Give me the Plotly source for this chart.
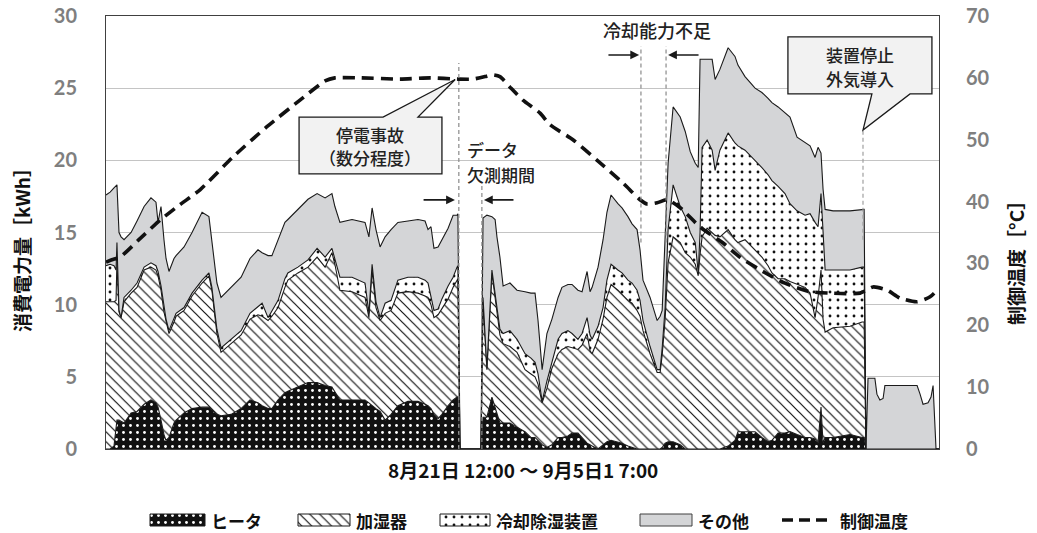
import plotly.graph_objects as go

# Elapsed time [h] from 8/21 12:00 (end of record: 9/5 17:00)
hours = [
    0, 1.8, 3.5, 4.4, 4.8, 5.7, 6.6, 7.9, 11.0, 13.6,
    16.7, 19.7, 21.9, 22.8, 24.1, 25.4, 26.3, 27.6, 29.8, 30.7,
    34.2, 37.7, 42.1, 45.1, 46.4, 48.6, 50.4, 54.8, 59.2, 63.1,
    66.6, 68.4, 71.0, 72.7, 75.4, 78.4, 79.7, 84.1, 88.5, 92.5,
    96.0, 99.0, 100.3, 102.5, 107.8, 113.5, 115.2, 116.6, 118.3, 120.1,
    122.3, 124.9, 127.9, 132.3, 136.7, 139.8, 141.1, 142.4, 143.7, 145.5,
    147.2, 149.9, 152.1, 153.8, 154.2, 155.1, 164.3, 165.2, 166.9, 169.1,
    170.5, 171.3, 172.6, 174.0, 177.0, 180.1, 183.6, 186.2, 188.0, 189.3,
    191.1, 193.2, 195.4, 198.1, 199.8, 202.4, 204.2, 206.8, 208.6, 210.8,
    212.1, 213.0, 215.6, 217.8, 219.5, 221.3, 224.3, 226.1, 228.7, 230.5,
    232.7, 234.0, 235.3, 238.4, 241.5, 242.8, 243.7, 245.0, 246.3, 248.5,
    251.6, 253.8, 256.0, 258.2, 259.5, 260.3, 261.2, 263.4, 265.6, 266.9,
    269.0, 272.6, 275.6, 276.9, 280.0, 284.4, 287.4, 290.1, 291.8, 294.5,
    297.5, 299.7, 302.8, 306.3, 308.5, 310.7, 312.0, 313.3, 314.2, 315.1,
    318.6, 326.0, 331.3, 332.2, 333.0, 333.9, 336.9, 337.8, 339.1, 340.5,
    341.3, 347.9, 355.4, 356.7, 358.0, 360.2, 361.5, 362.4, 363.3, 363.7,
    365.0,
]

# Energy consumption per hour [kWh]
heater = [
    0, 0, 0.2, 1.8, 2.0, 2.0, 1.9, 1.8, 2.5, 2.6,
    3.1, 3.4, 3.2, 2.9, 2.0, 1.0, 0.6, 0.8, 1.8, 2.0,
    2.5, 2.8, 2.9, 2.9, 2.7, 2.4, 2.3, 2.4, 2.8, 3.4,
    3.2, 3.0, 2.8, 2.8, 3.4, 3.9, 4.0, 4.3, 4.6, 4.6,
    4.4, 4.3, 4.0, 3.4, 3.4, 3.4, 3.2, 3.0, 2.8, 2.6,
    2.0, 2.4, 3.0, 3.3, 3.3, 3.1, 3.0, 2.8, 2.4, 2.1,
    2.4, 3.0, 3.4, 3.6, 3.6, 0, 0, 2.2, 2.2, 3.6,
    2.9, 2.4, 1.8, 1.8, 1.8, 1.5, 1.2, 0.8, 0.8, 0.6,
    0.3, 0.1, 0.3, 0.8, 0.8, 0.9, 1.1, 1.1, 0.8, 0.4,
    0.3, 0.2, 0.0, 0.3, 0.5, 0.6, 0.5, 0.4, 0.2, 0.1,
    0.0, 0.0, 0.0, 0.0, 0.0, 0.0, 0.1, 0.4, 0.5, 0.5,
    0.3, 0.0, 0.0, 0.0, 0.0, 0.0, 0.0, 0.0, 0.0, 0.0,
    0.0, 0.2, 0.6, 1.2, 1.2, 1.2, 0.8, 0.5, 0.6, 1.1,
    1.1, 1.2, 1.0, 0.8, 0.8, 0.7, 0.4, 2.9, 0.4, 0.8,
    0.8, 1.0, 0.8, 0.8, 0, 0, 0, 0, 0, 0,
    0, 0, 0, 0, 0, 0, 0, 0, 0, 0,
    0,
]
humidifier = [
    10.2, 10.2, 10.0, 8.5, 11.0, 7.5, 7.2, 8.4, 8.3, 8.6,
    9.3, 9.2, 9.2, 9.1, 9.0, 8.5, 8.2, 7.2, 7.0, 7.2,
    7.1, 7.8, 8.6, 9.1, 8.3, 5.6, 4.4, 4.9, 5.1, 5.6,
    6.1, 6.2, 6.1, 6.4, 6.4, 7.3, 7.7, 7.9, 8.0, 8.7,
    8.2, 9.3, 8.8, 7.6, 7.5, 7.1, 5.9, 9.4, 7.0, 6.3,
    7.4, 7.2, 7.8, 7.6, 7.5, 7.5, 7.5, 7.2, 6.7, 7.2,
    7.3, 7.4, 7.8, 8.1, 8.2, 0, 0, 8.1, 3.3, 8.6,
    7.6, 7.1, 6.1, 5.5, 5.3, 5.2, 4.3, 4.4, 4.2, 3.9,
    2.9, 4.1, 5.3, 5.8, 6.1, 6.2, 5.9, 5.8, 6.4, 7.6,
    6.5, 6.4, 7.6, 8.7, 10.0, 10.8, 10.5, 10.3, 10.1, 10.0,
    9.6, 9.2, 8.2, 6.6, 5.3, 5.3, 6.4, 8.6, 12.4, 14.2,
    14.0, 13.6, 13.3, 12.8, 12.0, 13.5, 14.7, 15.3, 15.0, 14.8,
    14.7, 15.0, 13.9, 13.1, 13.3, 12.6, 12.5, 12.2, 11.6, 10.7,
    10.7, 10.4, 10.4, 10.4, 10.0, 8.4, 10.1, 9.5, 8.6, 7.3,
    7.6, 7.5, 8.0, 8.0, 0, 0, 0, 0, 0, 0,
    0, 0, 0, 0, 0, 0, 0, 0, 0, 0,
    0,
]
dehumidifier = [
    2.5, 2.6, 2.5, 2.1, 1.3, 0.1, 0.0, 0.3, 0.2, 0.3,
    0.2, 0.3, 0.3, 0.3, 0.3, 0.2, 0.2, 0.2, 0.2, 0.2,
    0.2, 0.2, 0.2, 0.2, 0.2, 0.3, 0.3, 0.3, 0.3, 0.4,
    0.6, 0.9, 0.2, 0.4, 0.5, 0.6, 0.5, 0.4, 0.5, 0.6,
    0.7, 0.3, 0.4, 0.9, 1.0, 1.0, 0.3, 0.4, 0.4, 0.2,
    0.7, 0.7, 0.9, 1.0, 1.1, 1.1, 1.0, 0.6, 0.5, 0.4,
    0.7, 0.9, 0.7, 0.9, 0.9, 0, 0, 0.2, 0.1, 0.2,
    0.3, 0.3, 0.4, 0.7, 1.1, 0.9, 1.1, 1.1, 1.0, 0.7,
    0.1, 0.5, 0.4, 1.0, 1.1, 1.1, 1.0, 0.7, 0.8, 1.1,
    1.1, 1.0, 0.9, 0.8, 1.2, 1.4, 1.4, 1.5, 1.4, 1.4,
    1.4, 1.1, 0.7, 0.5, 0.2, 0.2, 0.5, 0.8, 2.3, 3.6,
    2.5, 2.5, 1.7, 1.5, 0.2, 1.5, 6.2, 6.1, 5.7, 4.5,
    6.0, 6.7, 6.7, 6.7, 6.2, 6.2, 6.2, 6.3, 6.4, 6.4,
    5.9, 5.4, 5.1, 5.0, 5.5, 6.6, 4.9, 5.3, 6.0, 4.3,
    4.0, 3.9, 3.8, 3.8, 0, 0, 0, 0, 0, 0,
    0, 0, 0, 0, 0, 0, 0, 0, 0, 0,
    0,
]
other = [
    4.9, 5.0, 5.4, 5.9, 4.0, 5.4, 5.6, 4.0, 4.0, 4.3,
    4.2, 4.5, 4.4, 3.4, 5.5, 4.8, 4.2, 4.1, 4.2, 4.0,
    4.2, 4.2, 4.7, 3.9, 3.1, 3.2, 3.5, 3.6, 3.7, 3.8,
    3.9, 3.5, 4.3, 3.8, 4.2, 3.9, 3.7, 4.0, 4.2, 3.8,
    4.1, 3.8, 3.6, 3.8, 4.0, 4.2, 5.3, 3.9, 5.0, 4.9,
    4.6, 4.9, 4.0, 3.9, 4.0, 4.1, 3.7, 4.8, 4.3, 4.3,
    4.1, 4.0, 4.3, 3.6, 3.6, 0, 0, 5.5, 10.6, 3.7,
    5.1, 4.9, 5.0, 3.3, 3.3, 3.4, 4.3, 4.5, 4.8, 3.7,
    2.2, 3.3, 3.0, 2.9, 3.2, 3.2, 3.4, 3.4, 2.9, 3.2,
    3.0, 3.6, 4.1, 4.7, 4.7, 4.8, 4.6, 4.5, 4.4, 4.1,
    4.2, 3.5, 2.8, 3.4, 3.4, 3.7, 2.6, 4.5, 4.6, 5.4,
    6.2, 5.9, 5.6, 5.5, 7.3, 12.0, 6.1, 5.6, 6.3, 6.3,
    5.6, 5.9, 6.0, 5.6, 5.1, 5.0, 5.2, 5.3, 5.4, 5.5,
    5.6, 6.0, 5.1, 5.0, 4.7, 4.5, 5.5, 2.8, 3.0, 4.2,
    4.1, 4.1, 4.0, 4.0, 0, 4.9, 4.9, 3.8, 3.4, 3.5,
    4.4, 4.4, 4.4, 3.8, 3.1, 3.2, 3.6, 4.4, 1.0, 0,
    0,
]

# Control temperature [°C]
temp_hours = [
    0, 2.6, 6.1, 14.9, 23.7, 32.4, 41.2, 55.6, 70.5, 85.0,
    96.0, 100.3, 111.3, 128.8, 142.0, 154.2, 160.8, 166.1, 169.1, 172.6,
    177.0, 182.7, 190.2, 194.6, 204.6, 215.1, 226.5, 234.0, 237.1, 241.5,
    245.9, 251.6, 260.3, 270.4, 277.8, 288.8, 297.5, 307.6, 317.2, 330.4,
    336.1, 342.2, 347.9, 355.4, 361.1, 365.0,
]
temp = [
    30.2, 30.6, 31.0, 34.0, 37.0, 39.5, 41.9, 47.2, 52.1, 56.4,
    59.5, 60.0, 60.0, 59.8, 60.0, 59.8, 59.8, 60.2, 60.5, 60.2,
    58.5, 56.4, 54.3, 52.4, 50.0, 46.7, 43.0, 40.3, 39.6, 39.8,
    40.3, 39.0, 35.9, 33.3, 31.0, 28.5, 26.8, 25.5, 25.2, 25.2,
    26.2, 25.7, 24.4, 23.8, 24.6, 26.0,
]

series_names = ["ヒータ", "加湿器", "冷却除湿装置", "その他", "制御温度"]

# Events on the time axis [h]
gap_start_h, gap_end_h = 154.6, 164.7
cool_short_start_h, cool_short_end_h = 234.4, 245.4
stop_h = 331.7

CJK = "Noto Sans CJK JP"
NUM = "Lato"
INK = "#1a1a1a"
OTHER_GRAY = "#d4d5d7"

PATTERNS = {
    "ヒータ": dict(shape=".", bgcolor="#111111", fgcolor="#ffffff", size=7, solidity=0.13, fillmode="replace"),
    "加湿器": dict(shape="\\", bgcolor="#ffffff", fgcolor="#111111", size=7, solidity=0.17, fillmode="replace"),
    "冷却除湿装置": dict(shape=".", bgcolor="#ffffff", fgcolor="#111111", size=8, solidity=0.1, fillmode="replace"),
}
FILLS = {"ヒータ": "#111111", "加湿器": "#ffffff", "冷却除湿装置": "#ffffff", "その他": OTHER_GRAY}

fig = go.Figure()

for name, vals in zip(series_names[:4], [heater, humidifier, dehumidifier, other]):
    kw = dict(fillpattern=PATTERNS[name]) if name in PATTERNS else {}
    fig.add_trace(go.Scatter(
        x=hours, y=vals, name=name, mode="lines", stackgroup="power", showlegend=False,
        line=dict(color=INK, width=1.1), fillcolor=FILLS[name], **kw,
    ))

TEMP_DASH = "12px,7px"
fig.add_trace(go.Scatter(
    x=temp_hours, y=temp, name=series_names[4], mode="lines", yaxis="y2", showlegend=False,
    line=dict(color="#111111", width=3.6, dash=TEMP_DASH, shape="spline", smoothing=0.6),
))

# ---- legend row drawn on its own pixel-scaled axes (x3 / y3) ----
legend_slots = [(150, 205), (298, 350), (440, 490), (640, 692), (782, 828)]
LEG_Y, LEG_H = 520, 12
legend_font = dict(family=CJK, size=17, color="#111111", weight="bold")
annotations = []
for name, (lx0, lx1) in zip(series_names, legend_slots):
    if name == "制御温度":
        fig.add_trace(go.Scatter(
            x=[lx0, lx1], y=[LEG_Y, LEG_Y], mode="lines", xaxis="x3", yaxis="y3", showlegend=False,
            line=dict(color="#111111", width=3.6, dash="11px,6px"),
        ))
        tx = lx1 + 10
    else:
        kw = dict(fillpattern=PATTERNS[name]) if name in PATTERNS else {}
        y0, y1 = LEG_Y - LEG_H / 2, LEG_Y + LEG_H / 2
        fig.add_trace(go.Scatter(
            x=[lx0, lx1, lx1, lx0, lx0], y=[y0, y0, y1, y1, y0], mode="lines", fill="toself",
            xaxis="x3", yaxis="y3", showlegend=False, fillcolor=FILLS[name],
            line=dict(color="#404040" if name == "その他" else INK, width=1), **kw,
        ))
        tx = lx1 + 4
    annotations.append(dict(x=tx, y=LEG_Y, xref="x3", yref="y3", text=name, showarrow=False,
                            xanchor="left", yanchor="middle", font=legend_font))

shapes = []


def vdash(x, y0, y1, color="#8a8a8a"):
    shapes.append(dict(type="line", xref="x", yref="y", x0=x, x1=x, y0=y0, y1=y1,
                       line=dict(color=color, width=1.2, dash="4px,3px"), layer="above"))


def arrow(tail, tip, y):
    annotations.append(dict(x=tip, y=y, ax=tail, ay=y, xref="x", yref="y", axref="x", ayref="y",
                            text="", showarrow=True, arrowhead=2, arrowsize=1.1, arrowwidth=1.6,
                            arrowcolor=INK))


# Dashed event markers
vdash(gap_start_h, 0, 26.75)
vdash(gap_end_h, 0, 18.3)
vdash(cool_short_start_h, 14.3, 27.9)
vdash(cool_short_end_h, 14.3, 27.9)
vdash(stop_h, 14.5, 22.1, color="#a0a0a0")

# Callout: power outage
bx0, bx1, by0, by1 = 84.6, 147.2, 19.06, 23.0
shapes.append(dict(
    type="path", xref="x", yref="y", layer="above",
    path=f"M{bx0},{by0} L{bx0},{by1} L121.4,{by1} L153.0,25.6 L136.7,{by1} L{bx1},{by1} L{bx1},{by0} Z",
    fillcolor="#f2f2f2", line=dict(color=INK, width=1.3),
))
# Callout: device stop
cx0, cx1, cy0, cy1 = 298.8, 361.9, 24.6, 28.55
shapes.append(dict(
    type="path", xref="x", yref="y", layer="above",
    path=f"M{cx0},{cy1} L{cx1},{cy1} L{cx1},{cy0} L352.3,{cy0} L{stop_h},22.1 L335.6,{cy0} L{cx0},{cy0} Z",
    fillcolor="#f2f2f2", line=dict(color=INK, width=1.3),
))

text_font = dict(family=CJK, size=17, color="#222222", weight=500)
annotations += [
    dict(x=115.7, y=21.8, xref="x", yref="y", text="停電事故", showarrow=False, font=text_font),
    dict(x=115.7, y=20.2, xref="x", yref="y", text="（数分程度）", showarrow=False, font=text_font),
    dict(x=157.3, y=20.75, xref="x", yref="y", text="データ", showarrow=False, font=text_font,
         xanchor="left"),
    dict(x=157.3, y=19.0, xref="x", yref="y", text="欠測期間", showarrow=False, font=text_font,
         xanchor="left"),
    dict(x=241.4, y=29.04, xref="x", yref="y", text="冷却能力不足", showarrow=False,
         font=dict(family=CJK, size=18, color="#222222", weight=500)),
    dict(x=330.4, y=27.3, xref="x", yref="y", text="装置停止", showarrow=False, font=text_font),
    dict(x=330.4, y=25.7, xref="x", yref="y", text="外気導入", showarrow=False, font=text_font),
    # axis titles
    dict(x=-0.102, y=0.557, xref="paper", yref="paper", xanchor="center", yanchor="middle",
         text="消費電力量［kWh］", showarrow=False, textangle=-90,
         font=dict(family=CJK, size=19, color="#111111", weight="bold")),
    dict(x=1.0924, y=0.532, xref="paper", yref="paper", xanchor="center", yanchor="middle",
         text="制御温度［°C］", showarrow=False, textangle=-90,
         font=dict(family=CJK, size=19, color="#111111", weight="bold")),
    dict(x=0.5, y=0.1219, xref="paper", yref="paper", xanchor="center", yanchor="middle",
         text="8月21日 12:00 〜 9月5日1 7:00", showarrow=False,
         font=dict(family=CJK, size=19, color="#111111", weight="bold")),
]
arrow(138.5, 152.9, 17.26)
arrow(179.2, 165.6, 17.26)
arrow(219.5, 233.6, 27.3)
arrow(260.3, 246.3, 27.3)

tick_font = dict(family=NUM, size=20, color="#7f7f7f", weight="bold")
MAIN_DOMAIN = [84 / 517, 1]

fig.update_layout(
    width=1037, height=533,
    margin=dict(l=106, r=98, t=16, b=0, autoexpand=False),
    paper_bgcolor="white", plot_bgcolor="white",
    showlegend=False,
    xaxis=dict(range=[0, 365], showticklabels=False, ticks="", showgrid=False, zeroline=False,
               showline=True, mirror=True, linecolor="#404040", linewidth=1, anchor="y"),
    yaxis=dict(domain=MAIN_DOMAIN, range=[0, 30], dtick=5, showgrid=True, gridcolor="#c4c4c4",
               gridwidth=1, zeroline=False, showline=True, linecolor="#404040", linewidth=1,
               tickfont=tick_font, ticks="", ticklabelstandoff=24),
    yaxis2=dict(domain=MAIN_DOMAIN, range=[0, 70], dtick=10, overlaying="y", side="right",
                showgrid=False, zeroline=False, showline=True, linecolor="#404040", linewidth=1,
                tickfont=tick_font, ticks="", ticklabelstandoff=22, anchor="x"),
    xaxis3=dict(domain=[0, 1], range=[106, 939], visible=False, anchor="y3", fixedrange=True),
    yaxis3=dict(domain=[0, 84 / 517], range=[533, 449], visible=False, anchor="x3", fixedrange=True),
    shapes=shapes,
    annotations=annotations,
    hovermode=False,
)

fig.write_html("out.html")
